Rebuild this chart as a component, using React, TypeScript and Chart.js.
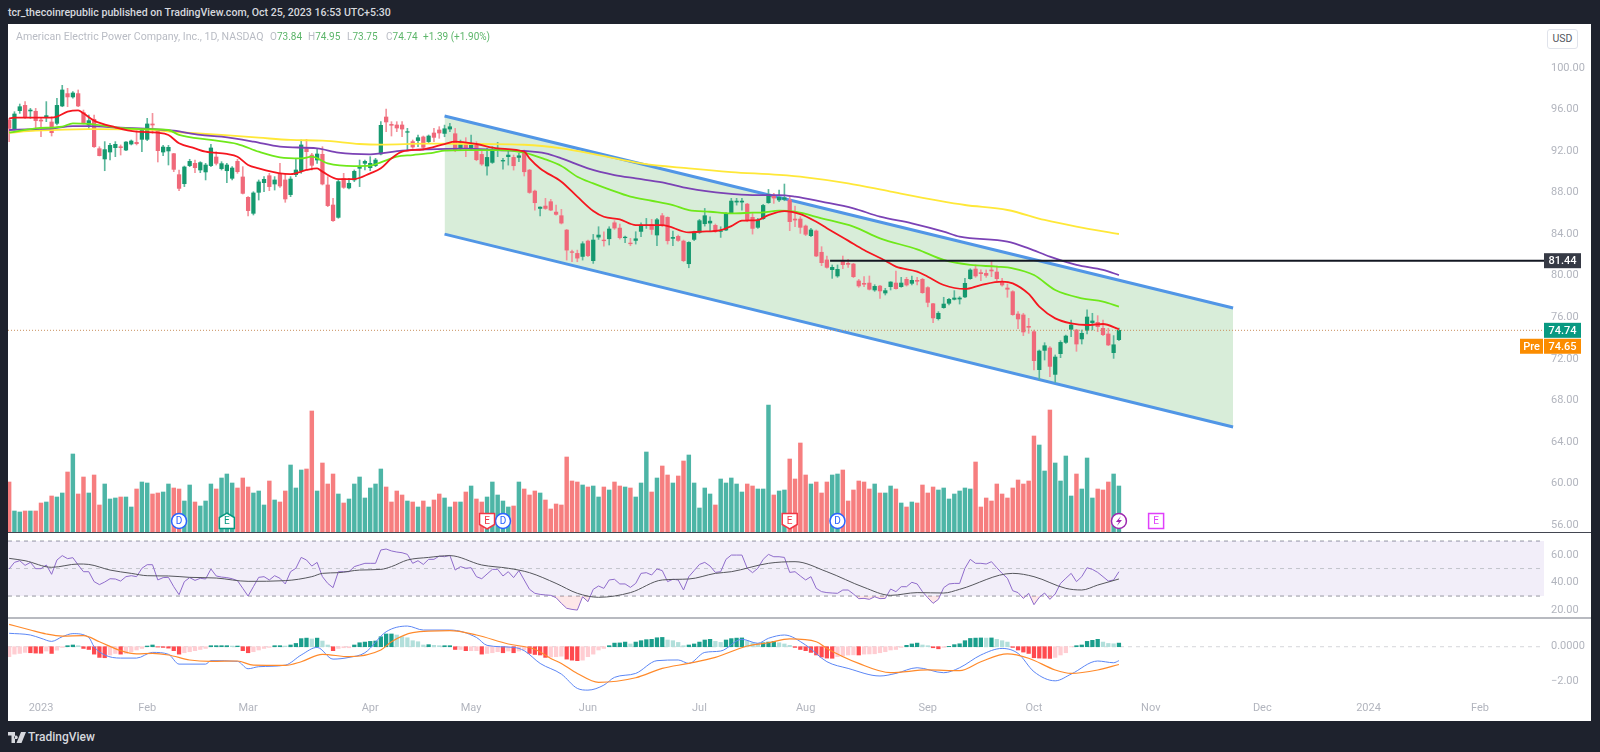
import { useEffect, useRef } from "react";
import { Chart, registerables } from "chart.js";

Chart.register(...registerables);

// bars start six sessions before the first 2023 session (index 0)
const firstBar = -6;
const opens = [
  94.98, 94.11, 95.88, 96.39, 95.85, 95.82, 94.98, 95.24, 94.79, 94.66,
  96.33, 97.52, 97.2, 97.52, 95.69, 94.5, 95.05, 92.22, 91.23, 91.9,
  92.32, 92.41, 92.09, 92.67, 92.83, 93.12, 93.12, 94.6, 93.99, 91.9,
  92, 91.74, 89.72, 88.85, 90.59, 90.81, 90.17, 89.98, 90.59, 91.42,
  90.3, 90.1, 89.37, 91.0, 89.5, 87.54, 86.0, 88.02, 88.95, 89.62,
  88.82, 89.82, 89.21, 87.8, 89.72, 90.1, 92.22, 91.61, 91.13, 91.68,
  88.73, 86.8, 85.61, 89.34, 88.44, 89.21, 90.33, 90.81, 90.39, 90.59,
  91.71, 95.27, 94.56, 94.5, 94.5, 93.8, 92.9, 93, 93.35, 92.9,
  93.73, 94.02, 93.69, 94.11, 93.66, 92.25, 92.63, 92.22, 92.67, 91.67,
  90.55, 90.9, 92.09, 91.03, 91.45, 91.38, 91.38, 91.93, 90.16, 88.14,
  86.47, 86.7, 87.12, 86.12, 85.77, 84.39, 82.3, 82.14, 81.85, 83.33,
  81.44, 83.71, 83.43, 83.55, 85.09, 84.58, 83.65, 83.14, 83.39, 84.26,
  84.81, 84.93, 83.91, 85.77, 85.61, 83.59, 83.78, 83.33, 81.15, 83.49,
  84.16, 85, 85.06, 84.84, 84.26, 84.39, 86.06, 87.08, 87.08, 86.89,
  85.61, 84.65, 85.48, 87.02, 87.72, 87.28, 87.34, 87.28, 85.45, 85.45,
  84.78, 83.85, 84.3, 82.25, 81.51, 80.58, 79.97, 81.41, 81.19, 81.12,
  79.49, 79.26, 79.29, 78.62, 79.0, 78.33, 78.94, 79.29, 78.94, 79.65,
  79.26, 79.55, 79.65, 78.85, 77.3, 75.86, 76.92, 77.34, 77.72, 77.75,
  77.95, 79.71, 80.64, 80.29, 80.22, 80.55, 80.35, 79.39, 78.81, 78.46,
  76.31, 76.22, 75.12, 74.61, 70.95, 72.81, 73.04, 70.5, 72.49, 73.58,
  74.84, 74.77, 73.91, 74.74, 75.48, 75.51, 74.93, 74.39, 72.59, 73.84,
];
const highs = [
  95.14, 95.78, 96.52, 96.75, 96.1, 96.1, 95.14, 96.75, 95.3, 97.07,
  98.32, 98.03, 97.71, 97.87, 95.94, 95.46, 95.46, 92.41, 92.9, 92.74,
  92.9, 92.58, 92.9, 93.06, 93.95, 94.18, 95.14, 95.62, 94.02, 92.54,
  92.54, 91.77, 90.17, 90.55, 91.2, 91.13, 90.97, 90.81, 92.64, 91.93,
  90.97, 90.81, 90.49, 91.2, 90.49, 87.6, 88.08, 89.21, 89.53, 89.85,
  89.53, 90.81, 89.78, 89.53, 91.29, 93.06, 93.12, 91.77, 92.25, 92.41,
  89.53, 87.44, 89.21, 89.85, 89.37, 90.17, 91.13, 91.13, 91.45, 91.29,
  94.82, 96.04, 94.82, 94.82, 94.82, 94.18, 93.06, 93.54, 93.44, 93.54,
  94.18, 94.34, 94.49, 94.65, 94.17, 93.05, 93.28, 93.53, 92.89, 92.15,
  92.25, 92.41, 92.83, 91.29, 92.09, 91.61, 91.77, 92.09, 90.23, 88.24,
  86.63, 87.44, 87.34, 86.79, 86.38, 84.45, 82.46, 82.46, 83.27, 83.43,
  83.97, 84.71, 84.23, 84.71, 85.29, 84.97, 83.81, 83.59, 84.23, 85.09,
  85.51, 85.42, 85.51, 85.99, 85.67, 84.29, 83.91, 83.43, 83.27, 84.29,
  85.42, 86.47, 85.67, 84.97, 84.71, 86.06, 87.44, 87.44, 87.44, 86.96,
  85.99, 85.51, 86.86, 88.3, 87.92, 88.24, 88.82, 87.6, 86.7, 85.68,
  84.88, 84.56, 84.4, 82.79, 81.89, 81.03, 81.03, 81.89, 81.57, 81.19,
  79.65, 79.9, 79.97, 79.13, 79.07, 78.78, 79.42, 80.45, 79.84, 79.84,
  79.97, 79.84, 79.74, 78.94, 77.34, 76.54, 77.92, 77.82, 78.56, 77.98,
  79.74, 80.67, 81.03, 80.55, 80.55, 81.41, 80.93, 79.74, 79.2, 78.56,
  76.54, 76.38, 75.89, 74.77, 72.85, 73.55, 73.17, 72.37, 73.74, 74.29,
  75.73, 74.84, 74.77, 76.7, 76.38, 76.15, 75.73, 74.93, 74.23, 74.95,
];
const lows = [
  92.9, 94.02, 95.62, 95.14, 95.14, 94.18, 93.38, 94.82, 93.44, 94.5,
  96.26, 96.26, 97.07, 96.26, 94.6, 94.18, 92.35, 91.52, 90.1, 91.13,
  91.45, 91.61, 92.03, 92.58, 92.58, 91.93, 92.99, 93.7, 90.94, 91.55,
  90.65, 90.01, 88.18, 88.57, 90.49, 89.91, 89.91, 89.21, 90.49, 90.65,
  90.17, 88.95, 89.21, 89.85, 87.86, 85.74, 85.84, 87.28, 88.08, 88.18,
  88.24, 88.5, 87.06, 87.6, 89.53, 89.85, 90.17, 90.17, 90.81, 88.73,
  86.64, 85.23, 85.52, 88.4, 88.34, 89.05, 88.57, 90.17, 90.1, 90.49,
  91.61, 93.86, 93.44, 93.86, 93.38, 92.09, 92.25, 92.41, 92.09, 92.74,
  92.9, 93.22, 93.37, 93.85, 91.93, 92.09, 91.45, 92.09, 91.06, 90.61,
  89.68, 90.8, 91.45, 90.26, 90.64, 90.16, 90.97, 89.59, 87.92, 86.31,
  85.74, 86.38, 86.25, 85.83, 84.97, 81.5, 81.34, 81.34, 81.5, 81.82,
  81.18, 83.49, 82.85, 82.95, 84.45, 83.52, 83.17, 82.88, 83.04, 83.75,
  84.55, 83.97, 82.88, 84.71, 83.04, 82.88, 83.3, 81.34, 80.76, 83.36,
  84.07, 84.77, 84.23, 84.16, 83.68, 84.32, 85.99, 86.79, 86.31, 85.19,
  84.0, 84.55, 85.42, 86.96, 86.96, 87.12, 87.21, 84.33, 84.72, 84.07,
  83.85, 83.75, 81.83, 80.96, 80.71, 79.74, 79.84, 80.67, 80.8, 79.81,
  78.88, 78.94, 78.62, 78.49, 77.82, 78.14, 78.62, 78.69, 78.88, 79.0,
  79.1, 79.1, 78.3, 77.0, 75.48, 75.73, 76.86, 77.18, 77.66, 77.27,
  77.88, 79.65, 79.84, 79.52, 79.84, 79.9, 79.52, 79.0, 77.92, 76.18,
  74.9, 74.23, 74.45, 70.92, 70.02, 71.88, 70.28, 69.74, 72.11, 73.49,
  74.13, 72.72, 73.42, 74.39, 74.77, 74.61, 74.23, 73.26, 72.04, 73.75,
];
const closes = [
  94.18, 95.56, 96.26, 95.24, 95.94, 94.92, 94.88, 95.4, 93.76, 96.39,
  97.87, 97.2, 97.58, 96.33, 94.72, 94.92, 92.41, 91.55, 92.13, 92.54,
  92.64, 92.32, 92.86, 92.96, 92.7, 93.99, 94.6, 94.5, 92.03, 92.38,
  92.35, 90.23, 88.4, 90.46, 91.0, 90.39, 90.88, 90.65, 92.29, 90.81,
  90.78, 90.65, 90.36, 90.01, 87.92, 86.26, 87.96, 89.02, 89.27, 88.57,
  89.21, 88.63, 87.38, 89.3, 90.17, 92.58, 91.93, 90.62, 91.71, 88.82,
  86.74, 85.29, 89.05, 88.5, 88.89, 90.04, 90.49, 91.0, 90.81, 91.13,
  94.47, 94.79, 94.47, 94.21, 94.11, 93.86, 92.38, 93.28, 92.35, 93.44,
  93.31, 93.73, 94.14, 94.33, 92.09, 92.76, 92.31, 92.57, 91.16, 90.74,
  91.38, 92.15, 92.15, 91.09, 91.61, 90.58, 91.54, 90, 88.01, 87.02,
  86.6, 86.47, 86.31, 85.9, 85.06, 82.46, 82.24, 81.69, 83.07, 81.92,
  83.43, 83.91, 83.36, 84.49, 84.58, 83.65, 83.71, 83.07, 83.55, 84.87,
  84.87, 84.45, 85.38, 84.87, 83.36, 83.68, 83.39, 81.44, 83.2, 84.2,
  85.29, 85.77, 85.25, 84.23, 84.32, 85.96, 87.18, 87.18, 87.18, 85.35,
  84.55, 85.35, 86.76, 87.82, 87.47, 87.53, 87.5, 85.2, 85.35, 84.65,
  83.98, 84.4, 81.89, 81.25, 80.8, 80.8, 80.61, 81.06, 81.09, 79.9,
  79.01, 79.17, 78.69, 78.97, 78.53, 78.56, 79.39, 78.75, 79.29, 79.1,
  79.55, 79.46, 78.36, 77.43, 75.93, 76.38, 77.27, 77.72, 77.85, 77.85,
  79.26, 80.55, 79.97, 80.19, 80.03, 80.45, 79.71, 79.1, 78.69, 76.25,
  75.83, 74.58, 75.03, 71.82, 72.75, 73.26, 71.27, 72.17, 73.58, 74.19,
  75.25, 73.42, 74.45, 76.02, 75.64, 75.09, 74.32, 73.33, 73.35, 74.74,
];
const volumes = [
  5.0, 2.1, 2.0, 2.1, 2.1, 2.1, 2.9, 3.0, 3.6, 3.5,
  3.9, 6.0, 7.8, 3.8, 5.5, 3.9, 5.7, 2.7, 4.8, 3.3,
  3.4, 3.5, 3.5, 2.5, 4.3, 5.0, 4.9, 3.8, 3.9, 4.0,
  4.8, 4.4, 4.3, 3.1, 4.7, 3.0, 2.6, 3.1, 4.8, 4.3,
  5.4, 5.8, 4.9, 4.4, 5.4, 4.5, 3.9, 4.1, 2.7, 5.1,
  3.2, 3.0, 4.1, 6.7, 4.4, 6.2, 6.3, 12.1, 4.1, 6.9,
  4.8, 5.8, 3.8, 2.9, 3.3, 4.8, 5.5, 3.4, 4.4, 4.8,
  6.3, 4.5, 3.0, 4.1, 3.7, 3.1, 3.0, 2.5, 3.1, 2.5,
  3.2, 3.8, 3.4, 2.5, 3.0, 3.0, 4.0, 4.6, 3.3, 3.0,
  3.5, 5.0, 3.7, 3.1, 2.5, 2.6, 5.0, 4.3, 3.7, 4.1,
  3.9, 3.2, 2.3, 2.8, 2.7, 7.5, 5.1, 5.0, 4.7, 4.5,
  4.6, 3.5, 4.5, 4.2, 5.0, 4.6, 4.5, 4.4, 3.5, 4.9,
  8.0, 4.0, 5.4, 6.6, 5.7, 4.9, 5.6, 7.1, 7.7, 4.9,
  2.4, 4.4, 3.8, 2.7, 5.3, 4.9, 5.4, 4.8, 4.0, 4.8,
  4.6, 4.3, 4.3, 12.7, 3.7, 4.1, 4.2, 7.3, 5.3, 8.9,
  5.7, 4.8, 5.0, 3.9, 5.0, 5.7, 5.8, 6.2, 3.1, 4.2,
  5.1, 5.0, 4.3, 4.8, 3.9, 3.9, 4.6, 4.3, 2.9, 2.5,
  3.0, 2.9, 4.7, 3.9, 4.5, 4.2, 4.4, 3.3, 3.8, 4.1,
  4.4, 4.3, 7.0, 2.5, 3.4, 3.1, 4.8, 3.8, 3.4, 4.4,
  5.2, 4.8, 5.1, 9.6, 8.7, 6.1, 12.2, 6.9, 5.1, 7.6,
  3.6, 5.8, 4.3, 7.4, 3.4, 4.3, 4.2, 5.0, 5.8, 4.6,
];
const rsi = [
  49.7, 54.5, 55.7, 52.3, 54.5, 49.9, 49.9, 52.6, 45.8, 56.2,
  59.4, 57.2, 57.9, 52.6, 47.7, 47.7, 40.5, 38.3, 40.2, 42.6,
  42.4, 40.9, 44.1, 44.8, 44.1, 50.2, 52.8, 52.8, 41.7, 43.4,
  43.6, 36.8, 31, 40.5, 43.4, 41.4, 42.9, 42.4, 49.7, 44.6,
  43.8, 43.4, 42.6, 41.2, 35.6, 30, 36.8, 43.6, 44.1, 41.7,
  44.8, 42.9, 38.8, 47.7, 50.2, 58.1, 56.2, 51.8, 54.5, 44.1,
  39.2, 36.1, 47.7, 47.7, 47.7, 51.4, 52.6, 53.8, 53.8, 53.8,
  63.5, 64.2, 62.8, 62, 61.5, 60.3, 53.8, 55.7, 53, 56.7,
  56.7, 59.1, 58.6, 59.6, 48.9, 51.4, 50.2, 50.6, 44.1, 42.6,
  46, 49.4, 49.4, 44.6, 47.7, 43.4, 48.5, 41.7, 34.9, 32,
  31.2, 30.8, 30.5, 28.8, 24.7, 21.1, 20.3, 19.8, 29.5, 25.9,
  34.9, 37.3, 35.6, 41.7, 42.2, 38.8, 38.8, 36.3, 39.2, 46.5,
  47, 45.3, 49.7, 48.5, 40.5, 42.2, 41.7, 34.4, 44.1, 48.5,
  53, 54.5, 51.8, 47.2, 47.7, 56.7, 59.8, 59.8, 59.8, 50.2,
  47, 50.2, 56.7, 60.3, 58.6, 58.6, 58.1, 47.2, 47.7, 44.6,
  41.7, 44.1, 35.6, 33.2, 32.5, 32.2, 32, 34.4, 34.4, 31.5,
  28.1, 28.3, 27.6, 29.5, 28.1, 28.3, 35.1, 33.2, 36.8, 36.8,
  40, 38.8, 33.2, 28.8, 24.7, 27.6, 36.1, 38.8, 39.2, 39.2,
  50.2, 56.7, 53.8, 53.8, 53.3, 55, 50.6, 46.5, 42.9, 33.9,
  32.5, 28.3, 32, 23.7, 29.1, 32.2, 27.6, 31.5, 39.2, 42.9,
  46.5, 40.5, 44.1, 50.6, 49.4, 47.2, 44.1, 40.9, 41.7, 47.7,
];
const histogram = [
  -0.58, -0.43, -0.39, -0.33, -0.35, -0.37, -0.38, -0.25, -0.39, -0.2,
  -0.04, 0.06, 0.1, 0.06, -0.1, -0.16, -0.43, -0.62, -0.64, -0.48,
  -0.39, -0.43, -0.39, -0.29, -0.19, -0.1, 0.04, 0.1, -0.02, -0.04,
  -0.08, -0.23, -0.43, -0.35, -0.29, -0.23, -0.16, -0.1, 0.06, 0.06,
  0.06, 0.06, 0.04, 0.04, -0.23, -0.35, -0.29, -0.19, -0.1, -0.04,
  0.06, 0.06, 0.04, 0.1, 0.19, 0.47, 0.5, 0.45, 0.5, 0.33,
  0.1, -0.23, -0.1, -0.06, -0.06, 0.1, 0.23, 0.27, 0.31, 0.33,
  0.58, 0.74, 0.74, 0.68, 0.58, 0.52, 0.35, 0.29, 0.1, 0.12,
  0.08, 0.06, 0.06, 0.06, -0.16, -0.16, -0.23, -0.23, -0.23, -0.43,
  -0.39, -0.35, -0.29, -0.35, -0.25, -0.35, -0.25, -0.19, -0.39, -0.45,
  -0.48, -0.62, -0.6, -0.58, -0.55, -0.72, -0.78, -0.81, -0.78, -0.58,
  -0.43, -0.19, -0.1, 0.06, 0.21, 0.22, 0.27, 0.16, 0.27, 0.35,
  0.41, 0.43, 0.52, 0.54, 0.39, 0.35, 0.25, 0.06, 0.1, 0.16,
  0.27, 0.39, 0.43, 0.31, 0.25, 0.39, 0.47, 0.5, 0.51, 0.35,
  0.23, 0.19, 0.23, 0.27, 0.31, 0.23, 0.16, 0.08, -0.04, -0.16,
  -0.23, -0.33, -0.48, -0.6, -0.66, -0.67, -0.58, -0.54, -0.48, -0.47,
  -0.48, -0.43, -0.42, -0.41, -0.35, -0.29, -0.19, -0.16, -0.04, 0.08,
  0.16, 0.21, 0.1, 0.06, -0.06, -0.12, -0.04, 0.02, 0.12, 0.17,
  0.35, 0.48, 0.5, 0.51, 0.5, 0.51, 0.43, 0.35, 0.27, -0.04,
  -0.19, -0.31, -0.39, -0.64, -0.66, -0.67, -0.68, -0.62, -0.48, -0.35,
  -0.01, 0.06, 0.1, 0.31, 0.37, 0.43, 0.27, 0.19, 0.17, 0.21,
];

// moving averages, read at their turning points: bar index + value
const ema20Idx = [-6, -5, 2, 3, 5, 7, 8, 10, 14, 18, 22, 24, 26, 29, 31, 35, 37, 39, 41, 45, 47, 50, 52, 53, 56, 59, 62, 64, 66, 68, 72, 76, 78, 82, 86, 91, 92, 94, 98, 101, 104, 106, 109, 112, 117, 122, 124, 128, 130, 132, 135, 137, 140, 143, 146, 148, 152, 155, 159, 161, 165, 167, 170, 174, 177, 181, 183, 186, 188, 191, 194, 197, 200, 203];
const ema20 = [95.14, 95.2, 95.2, 95.3, 95.78, 95.91, 95.62, 94.92, 94.28, 93.86, 93.76, 93.54, 92.74, 92.25, 91.93, 91.71, 91.45, 90.65, 90.33, 89.85, 89.78, 90.17, 90.33, 90.01, 89.3, 89.3, 89.85, 90.33, 91.29, 91.93, 92.16, 92.67, 92.9, 92.67, 92.25, 91.93, 91.29, 90.32, 89.04, 87.6, 86.22, 85.67, 85.42, 84.87, 84.87, 84.16, 84.23, 84.39, 84.77, 85.29, 85.35, 85.83, 86.22, 85.93, 85.19, 84.56, 83.37, 82.47, 81.44, 80.87, 80.39, 79.9, 79.1, 78.72, 79.1, 79.42, 79.26, 78.24, 77.02, 75.89, 75.41, 75.25, 75.35, 74.84];
const ema50Idx = [-6, -1, 4, 6, 9, 14, 19, 24, 26, 32, 37, 41, 45, 49, 51, 54, 59, 62, 64, 67, 70, 74, 76, 80, 86, 91, 95, 98, 101, 104, 107, 111, 115, 119, 122, 126, 130, 134, 136, 139, 142, 147, 153, 158, 165, 170, 175, 180, 183, 187, 191, 196, 200, 203];
const ema50 = [93.76, 94.18, 94.34, 94.66, 94.6, 94.28, 94.11, 94.02, 93.54, 93.06, 92.67, 91.93, 91.39, 91.29, 91.45, 90.81, 90.55, 90.59, 90.91, 91.45, 91.61, 91.84, 92.03, 92.09, 92.09, 91.85, 91.19, 90.55, 89.52, 88.88, 88.3, 87.6, 87.21, 86.79, 86.31, 86.15, 85.99, 86.06, 86.09, 86.26, 86.16, 85.52, 84.72, 83.59, 82.53, 81.51, 81.03, 80.87, 80.71, 80.06, 78.62, 77.82, 77.5, 77.02];
const ema100Idx = [-6, -1, 2, 6, 9, 15, 21, 25, 30, 34, 40, 45, 52, 56, 62, 64, 68, 73, 80, 86, 91, 95, 98, 103, 108, 112, 117, 122, 129, 134, 139, 142, 147, 153, 158, 164, 170, 173, 182, 186, 190, 195, 200, 203];
const ema100 = [94.02, 94.11, 94.18, 94.4, 94.4, 94.24, 94.11, 93.95, 93.54, 93.38, 92.9, 92.41, 92.25, 91.84, 91.68, 91.77, 92.03, 92.16, 92.22, 92.09, 92.0, 91.77, 91.29, 90.32, 89.68, 89.36, 88.98, 88.4, 87.92, 87.76, 87.76, 87.6, 87.12, 86.48, 85.68, 85.04, 84.24, 83.75, 83.27, 82.63, 81.83, 81.03, 80.55, 80.06];
const ema200Idx = [-6, -1, 9, 19, 26, 34, 41, 47, 53, 60, 64, 73, 83, 91, 98, 105, 113, 122, 130, 139, 144, 152, 160, 169, 174, 182, 189, 195, 203];
const ema200 = [93.76, 93.95, 94.11, 94.08, 93.8, 93.54, 93.28, 93.06, 93, 92.67, 92.61, 92.7, 92.67, 92.6, 92.25, 91.61, 90.8, 90.32, 89.97, 89.69, 89.46, 88.89, 88.09, 87.22, 86.8, 86.32, 85.36, 84.72, 84.01];
const rsiMaIdx = [-6, -3, 2, 7, 9, 13, 17, 20, 24, 28, 33, 39, 46, 51, 53, 56, 60, 64, 66, 69, 73, 77, 83, 88, 92, 97, 101, 105, 111, 117, 122, 127, 130, 137, 142, 148, 155, 160, 165, 170, 173, 183, 187, 193, 196, 199, 203];
const rsiMa = [57.4, 55.7, 50.9, 53.3, 53, 48.9, 46.5, 44.8, 44.6, 43.6, 43.1, 40.7, 41.2, 44.1, 46.5, 47, 48.9, 49.4, 51.4, 56.2, 58.1, 59.4, 52.6, 50.2, 47, 39.2, 32, 29.1, 32.5, 41.7, 42.4, 46.5, 47.7, 53.8, 55, 47.7, 36.3, 30.5, 32.5, 32.2, 34.9, 46.5, 44.1, 35.6, 34.4, 38, 42.4];
const macdIdx = [-6, -2, 0, 2, 4, 6, 9, 10, 12, 15, 18, 21, 24, 26, 31, 32, 37, 39, 41, 46, 49, 52, 55, 58, 61, 65, 69, 72, 77, 82, 84, 89, 91, 94, 98, 101, 103, 106, 108, 112, 116, 120, 122, 125, 128, 132, 135, 137, 140, 144, 148, 152, 158, 161, 165, 170, 173, 177, 181, 184, 187, 191, 194, 199, 202, 203];
const macd = [0.78, 0.68, 0.49, 0.31, 0.58, 0.76, 0.54, 0, -0.48, -0.66, -0.66, -0.33, -0.44, -1.01, -1.01, -0.81, -0.85, -1.28, -1.16, -1.07, -0.48, -0.04, -0.72, -0.62, -0.35, 0.87, 1.2, 0.97, 0.97, 0.54, 0.08, -0.04, -0.23, -0.97, -1.59, -2.42, -2.52, -2.23, -1.78, -1.55, -0.81, -0.77, -0.97, -0.33, -0.25, 0.43, 0.2, 0.49, 0.68, 0.1, -0.87, -1.26, -1.7, -1.55, -1.22, -1.51, -1.22, -0.48, -0.1, -0.39, -1.45, -1.98, -1.59, -0.83, -0.93, -0.81];
const signalIdx = [-6, -2, 1, 4, 8, 11, 15, 18, 21, 24, 28, 32, 37, 40, 46, 49, 53, 58, 64, 66, 70, 77, 82, 88, 93, 96, 98, 101, 105, 112, 117, 122, 127, 133, 137, 141, 146, 148, 154, 160, 167, 173, 177, 182, 186, 191, 194, 199, 203];
const signal = [1.3, 0.97, 0.74, 0.62, 0.64, 0.29, -0.23, -0.42, -0.39, -0.48, -0.77, -0.85, -0.83, -1.07, -1.08, -0.87, -0.44, -0.58, -0.19, 0.29, 0.82, 0.93, 0.68, 0.16, -0.15, -0.68, -0.97, -1.55, -2.07, -1.8, -1.26, -0.97, -0.62, 0.04, 0.23, 0.45, 0.29, -0.1, -0.97, -1.51, -1.35, -1.39, -0.87, -0.42, -0.67, -1.35, -1.55, -1.35, -1.03];

const monthIdx = [0, 20, 39, 62, 81, 103, 124, 144, 167, 187, 209, 230, 250, 271];
const monthLabels = ["2023", "Feb", "Mar", "Apr", "May", "Jun", "Jul", "Aug", "Sep", "Oct", "Nov", "Dec", "2024", "Feb"];

const priceTicks = [56, 60, 64, 68, 72, 76, 80, 84, 88, 92, 96, 100];
const rsiTicks = [20, 40, 60];
const macdTicks = [-2, 0];

const channelIdx = [76, 224.5];
const channelTop = [95.36, 76.89];
const channelBottom = [84.0, 65.43];
const levelPrice = 81.44;
const levelStart = 148.6;
const lastPrice = 74.74;
const prePrice = 74.65;

// events on the volume pane
const dividends = [26, 87, 150];
const earningsBeat = [35];
const earningsMiss = [84, 141];
const flashIdx = 203;
const nextEarnings = 210;

const xMin = -6.215;
const xMax = 283.05;
const axisW = 47;

const UP = "#15996f";
const DOWN = "#f0697a";
const UP_WICK = "#5bb79c";
const DOWN_WICK = "#f3929c";
const TEXT = "#b2b5be";
const FONT = "Roboto, sans-serif";

const at = (i: number) => firstBar + i;
const knots = (xs: number[], ys: number[]) => xs.map((x, i) => ({ x, y: ys[i] }));
const hline = (y: number, a = xMin, b = xMax) => [{ x: a, y }, { x: b, y }];

const lineDs = (data: any, color: string, width: number, order: number, extra: any = {}) => ({
  type: "line",
  data,
  borderColor: color,
  borderWidth: width,
  pointRadius: 0,
  cubicInterpolationMode: "monotone",
  order,
  ...extra,
});

// scales would otherwise keep room for half a label plus padding at each end
const noPadding = (s: any) => {
  s.paddingTop = 0;
  s.paddingBottom = 0;
  s.paddingLeft = 0;
  s.paddingRight = 0;
};

const xScale = (show: boolean): any => ({
  type: "linear",
  min: xMin,
  max: xMax,
  offset: false,
  display: show,
  grid: { display: false, offset: false, drawTicks: false },
  border: { display: false },
  afterBuildTicks: (s: any) => {
    s.ticks = monthIdx.map((value) => ({ value }));
  },
  afterFit: (s: any) => {
    noPadding(s);
    if (show) s.height = 24;
  },
  ticks: {
    autoSkip: false,
    maxRotation: 0,
    color: TEXT,
    font: { family: FONT, size: 11 },
    padding: 5,
    callback: (v: number) => monthLabels[monthIdx.indexOf(v)],
  },
});

const yScale = (min: number, max: number, ticks: number[], fmt: (v: number) => string): any => ({
  position: "right",
  min,
  max,
  grid: { display: false, drawTicks: false },
  border: { display: false },
  afterBuildTicks: (s: any) => {
    s.ticks = ticks.map((value) => ({ value }));
  },
  afterFit: (s: any) => {
    noPadding(s);
    s.width = axisW;
  },
  ticks: { color: TEXT, font: { family: FONT, size: 11 }, padding: 7, callback: fmt },
});

const baseOptions = (scales: any): any => ({
  responsive: false,
  animation: false,
  events: [],
  devicePixelRatio: 1,
  layout: { padding: 0, autoPadding: false },
  plugins: { legend: { display: false }, tooltip: { enabled: false } },
  scales,
});

const tag = (ctx: any, x: number, y: number, w: number, bg: string, text: string) => {
  ctx.fillStyle = bg;
  ctx.fillRect(x, y - 7.5, w, 15);
  ctx.fillStyle = "#ffffff";
  ctx.textAlign = "center";
  ctx.textBaseline = "middle";
  ctx.font = `500 11px ${FONT}`;
  ctx.fillText(text, x + w / 2, y + 0.5);
};

// price tags on the axis and the event flags on the volume pane
const overlayPlugin = {
  id: "overlay",
  afterDraw(chart: any) {
    const { ctx, chartArea, scales } = chart;
    const right = chartArea.right;
    ctx.save();
    tag(ctx, right, scales.y.getPixelForValue(levelPrice), 37, "#363a45", levelPrice.toFixed(2));
    const lastY = scales.y.getPixelForValue(lastPrice);
    tag(ctx, right, lastY, 37, "#089981", lastPrice.toFixed(2));
    tag(ctx, right, scales.y.getPixelForValue(prePrice) + 15, 37, "#fb8c00", prePrice.toFixed(2));
    tag(ctx, right - 24, scales.y.getPixelForValue(prePrice) + 15, 23, "#fb8c00", "Pre");

    const cy = chartArea.bottom - 11;
    const letter = (x: number, color: string, s: string) => {
      ctx.fillStyle = color;
      ctx.font = `10px ${FONT}`;
      ctx.textAlign = "center";
      ctx.textBaseline = "middle";
      ctx.fillText(s, x, cy + 0.5);
    };
    const ring = (x: number, color: string) => {
      ctx.beginPath();
      ctx.arc(x, cy, 7.5, 0, Math.PI * 2);
      ctx.fillStyle = "#ffffff";
      ctx.fill();
      ctx.lineWidth = 1.5;
      ctx.strokeStyle = color;
      ctx.stroke();
    };
    dividends.forEach((i) => {
      const x = scales.x.getPixelForValue(i);
      ring(x, "#2962ff");
      letter(x, "#2962ff", "D");
    });
    const house = (x: number, color: string, up: boolean) => {
      const d = up ? 1 : -1;
      ctx.beginPath();
      ctx.moveTo(x, cy - 8 * d);
      ctx.lineTo(x + 7.5, cy - 3.5 * d);
      ctx.lineTo(x + 7.5, cy + 7.5 * d);
      ctx.lineTo(x - 7.5, cy + 7.5 * d);
      ctx.lineTo(x - 7.5, cy - 3.5 * d);
      ctx.closePath();
      ctx.fillStyle = "#ffffff";
      ctx.fill();
      ctx.lineWidth = 1.5;
      ctx.strokeStyle = color;
      ctx.stroke();
      letter(x, color, "E");
    };
    earningsBeat.forEach((i) => house(scales.x.getPixelForValue(i), "#089981", true));
    earningsMiss.forEach((i) => house(scales.x.getPixelForValue(i), "#f23645", false));

    const fx = scales.x.getPixelForValue(flashIdx);
    ring(fx, "#9c27b0");
    ctx.beginPath();
    ctx.moveTo(fx + 2, cy - 5);
    ctx.lineTo(fx - 3, cy + 1);
    ctx.lineTo(fx, cy + 1);
    ctx.lineTo(fx - 2, cy + 5);
    ctx.lineTo(fx + 3, cy - 1);
    ctx.lineTo(fx, cy - 1);
    ctx.closePath();
    ctx.fillStyle = "#9c27b0";
    ctx.fill();

    const ex = scales.x.getPixelForValue(nextEarnings);
    ctx.fillStyle = "#ffffff";
    ctx.fillRect(ex - 7.5, cy - 7.5, 15, 15);
    ctx.lineWidth = 1.5;
    ctx.strokeStyle = "#e040fb";
    ctx.strokeRect(ex - 7.5, cy - 7.5, 15, 15);
    letter(ex, "#e040fb", "E");
    ctx.restore();
  },
};

function makePriceChart(canvas: HTMLCanvasElement) {
  const candleColor = opens.map((o, i) => (closes[i] >= o ? UP : DOWN));
  const wickColor = opens.map((o, i) => (closes[i] >= o ? UP_WICK : DOWN_WICK));
  const volColor = opens.map((o, i) => (closes[i] >= o ? "#4db5a6" : "#f67e7f"));
  return new Chart(canvas, {
    type: "bar",
    data: {
      datasets: [
        {
          data: volumes.map((y, i) => ({ x: at(i), y })),
          yAxisID: "yVol",
          backgroundColor: volColor,
          barThickness: 3.8,
          grouped: false,
          order: 20,
        },
        {
          data: lows.map((l, i) => ({ x: at(i), y: [l, highs[i]] })),
          backgroundColor: wickColor,
          barThickness: 1,
          grouped: false,
          order: 19,
        },
        {
          data: opens.map((o, i) => ({ x: at(i), y: [o, closes[i]] })),
          backgroundColor: candleColor,
          barThickness: 3.6,
          grouped: false,
          order: 18,
        },
        lineDs(knots(channelIdx, channelTop), "#5196e6", 3, 21, { cubicInterpolationMode: "default" }),
        lineDs(knots(channelIdx, channelBottom), "#5196e6", 3, 22, {
          cubicInterpolationMode: "default",
          fill: "-1",
          backgroundColor: "rgba(76,175,80,0.22)",
        }),
        lineDs(knots(ema200Idx, ema200), "#ffe838", 1.8, 6),
        lineDs(knots(ema100Idx, ema100), "#7b42b5", 1.8, 5),
        lineDs(knots(ema50Idx, ema50), "#6fe81a", 1.8, 4),
        lineDs(knots(ema20Idx, ema20), "#f5161f", 1.8, 3),
        lineDs(hline(lastPrice), "#c98f5c", 1, 2, { borderDash: [1, 2] }),
        lineDs(hline(levelPrice, levelStart), "#131722", 2, 1),
      ] as any,
    },
    options: baseOptions({
      x: xScale(false),
      y: yScale(55.33, 104.22, priceTicks, (v: number) => v.toFixed(2)),
      yVol: { display: false, min: 0, max: 50.8 },
    }),
    plugins: [overlayPlugin],
  });
}

function makeRsiChart(canvas: HTMLCanvasElement) {
  return new Chart(canvas, {
    type: "line",
    data: {
      datasets: [
        lineDs(hline(70), "#9598a1", 1, 9, { borderDash: [4, 4] }),
        lineDs(hline(30), "#9598a1", 1, 8, {
          borderDash: [4, 4],
          fill: "-1",
          backgroundColor: "rgba(126,87,194,0.1)",
        }),
        lineDs(hline(50), "#c3c5cb", 1, 7, { borderDash: [4, 4] }),
        lineDs(rsi.map((y, i) => ({ x: at(i), y })), "#8f6ccb", 1, 3, {
          cubicInterpolationMode: "default",
          fill: { target: { value: 30 }, above: "transparent", below: "rgba(242,54,69,0.12)" },
        }),
        lineDs(knots(rsiMaIdx, rsiMa), "#55565c", 1, 2),
      ] as any,
    },
    options: baseOptions({
      x: xScale(false),
      y: yScale(14.04, 75.85, rsiTicks, (v: number) => v.toFixed(2)),
    }),
  });
}

function makeMacdChart(canvas: HTMLCanvasElement) {
  const histColor = histogram.map((v, i) => {
    const prev = i > 0 ? histogram[i - 1] : v;
    if (v >= 0) return v >= prev ? "#1a9e8c" : "#b2dfdb";
    return v < prev ? "#ff4a4f" : "#ffcdd2";
  });
  return new Chart(canvas, {
    type: "bar",
    data: {
      datasets: [
        lineDs(hline(0), "#d5d6da", 1, 9, { borderDash: [4, 4] }),
        {
          data: histogram.map((y, i) => ({ x: at(i), y })),
          backgroundColor: histColor,
          barThickness: 3.6,
          grouped: false,
          order: 8,
        },
        lineDs(knots(macdIdx, macd), "#5b86f5", 1, 3),
        lineDs(knots(signalIdx, signal), "#ff8a2b", 1.2, 2),
      ] as any,
    },
    options: baseOptions({
      x: xScale(true),
      y: yScale(-2.92, 1.61, macdTicks, (v: number) => (v === 0 ? "0.0000" : "\u22122.00")),
    }),
  });
}

const paneStyle = (top: number, height: number): any => ({
  position: "absolute",
  left: 8,
  top,
  width: 1583,
  height,
  display: "block",
});

const legendGreen = "#5cb56a";
const legendPart = (left: number, head: string, value: string) => (
  <div style={{ position: "absolute", left, top: 31, fontSize: 10, whiteSpace: "nowrap", color: "#b9bcc4" }}>
    {head}
    <span style={{ color: legendGreen }}>{value}</span>
  </div>
);

export default function App() {
  const priceRef = useRef<HTMLCanvasElement>(null);
  const rsiRef = useRef<HTMLCanvasElement>(null);
  const macdRef = useRef<HTMLCanvasElement>(null);

  useEffect(() => {
    const charts = [
      makePriceChart(priceRef.current!),
      makeRsiChart(rsiRef.current!),
      makeMacdChart(macdRef.current!),
    ];
    return () => charts.forEach((c) => c.destroy());
  }, []);

  return (
    <div style={{ position: "fixed", left: 0, top: 0, width: 1600, height: 752, background: "#1e222d", overflow: "hidden", fontFamily: FONT }}>
      <div style={{ position: "absolute", left: 8, top: 6, color: "#d6d8de", fontSize: 10.6, fontWeight: 500, whiteSpace: "nowrap" }}>
        tcr_thecoinrepublic published on TradingView.com, Oct 25, 2023 16:53 UTC+5:30
      </div>

      <div style={{ position: "absolute", left: 8, top: 24, width: 1583, height: 697, background: "#ffffff" }} />
      <canvas ref={priceRef} width={1583} height={508} style={paneStyle(24, 508)} />
      <div style={{ position: "absolute", left: 8, top: 532, width: 1583, height: 1, background: "#434651" }} />
      <canvas ref={rsiRef} width={1583} height={85} style={paneStyle(533, 85)} />
      <div style={{ position: "absolute", left: 8, top: 617, width: 1583, height: 2, background: "#b8bac0" }} />
      <canvas ref={macdRef} width={1583} height={102} style={paneStyle(619, 102)} />

      <div style={{ position: "absolute", left: 16, top: 30, fontSize: 10.6, whiteSpace: "nowrap", color: "#b9bcc4" }}>
        American Electric Power Company, Inc., 1D, NASDAQ
      </div>
      {legendPart(270, "O", "73.84")}
      {legendPart(308, "H", "74.95")}
      {legendPart(347, "L", "73.75")}
      {legendPart(386, "C", "74.74")}
      {legendPart(423, "", "+1.39 (+1.90%)")}

      <div style={{ position: "absolute", left: 1547, top: 29, width: 31, height: 20, boxSizing: "border-box", border: "1px solid #e0e3eb", borderRadius: 3, background: "#ffffff", color: "#555861", fontSize: 10.5, lineHeight: "18px", textAlign: "center" }}>
        USD
      </div>

      <svg style={{ position: "absolute", left: 8, top: 732 }} width={18} height={11} viewBox="0 0 18 11">
        <path d="M0 0h7v11H3.5V3.5H0z M8 3.5a1.8 1.8 0 1 0 0.01 0z M13 0h5l-4.5 11H8.5z" fill="#d6d8de" />
      </svg>
      <div style={{ position: "absolute", left: 28, top: 730, color: "#d6d8de", fontSize: 12, fontWeight: 500 }}>TradingView</div>
    </div>
  );
}
